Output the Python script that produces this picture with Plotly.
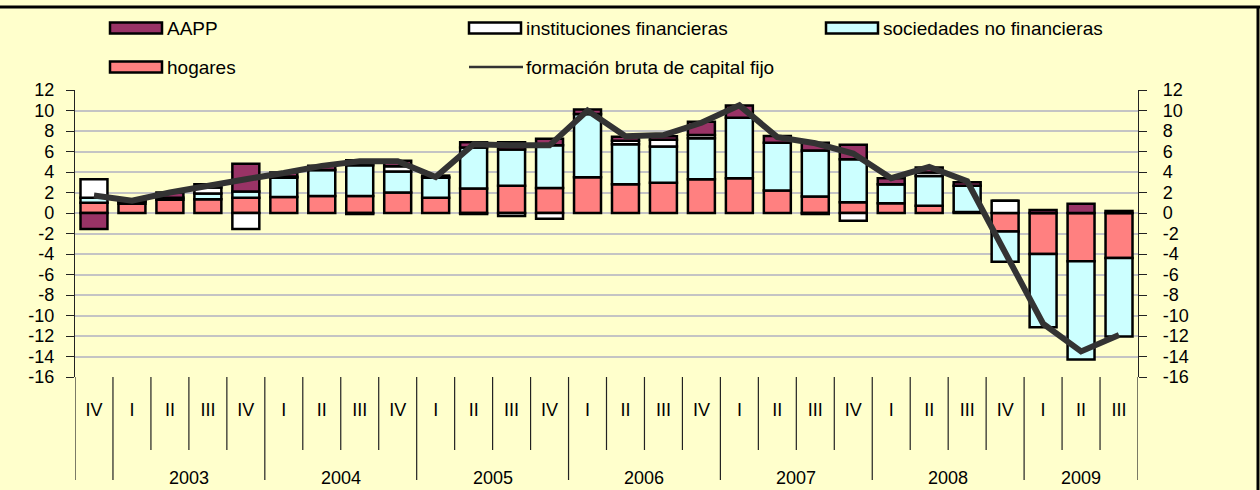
import plotly.graph_objects as go

# ---- data ----
quarters = ["IV",
            "I", "II", "III", "IV",
            "I", "II", "III", "IV",
            "I", "II", "III", "IV",
            "I", "II", "III", "IV",
            "I", "II", "III", "IV",
            "I", "II", "III", "IV",
            "I", "II", "III"]
years = ["2002"] + ["2003"] * 4 + ["2004"] * 4 + ["2005"] * 4 + ["2006"] * 4 + \
        ["2007"] * 4 + ["2008"] * 4 + ["2009"] * 3
shown_years = ["2003", "2004", "2005", "2006", "2007", "2008", "2009"]

hogares = [1.0, 0.9, 1.3, 1.35, 1.5, 1.55, 1.65, 1.65, 2.0, 1.5, 2.4, 2.65, 2.45, 3.5,
           2.8, 2.95, 3.3, 3.4, 2.2, 1.6, 1.05, 0.95, 0.7, 0.1, -1.8, -4.0, -4.7, -4.4]
sociedades = [0.5, 0.2, 0.2, 0.55, 0.6, 1.9, 2.55, 3.0, 2.05, 1.95, 4.0, 3.55, 4.15, 6.15,
              3.9, 3.55, 4.0, 5.9, 4.65, 4.5, 4.2, 1.85, 2.9, 2.55, -2.95, -7.15, -9.6, -7.65]
instituciones = [1.8, 0.05, 0.0, 0.6, -1.55, 0.1, 0.0, -0.1, 0.5, 0.05, -0.1, -0.3, -0.55, 0.0,
                 0.35, 0.65, 0.3, 0.0, 0.0, -0.1, -0.75, 0.0, 0.35, 0.0, 1.2, 0.0, 0.0, 0.0]
aapp = [-1.55, 0.15, 0.5, 0.3, 2.7, 0.4, 0.4, 0.5, 0.55, 0.15, 0.5, 0.7, 0.65, 0.45,
        0.4, 0.35, 1.3, 1.2, 0.65, 0.75, 1.4, 0.6, 0.5, 0.35, 0.0, 0.3, 0.9, 0.2]
fbcf = [1.7, 1.2, 2.0, 2.7, 3.3, 3.9, 4.6, 5.05, 5.05, 3.5, 6.7, 6.6, 6.6, 10.0,
        7.5, 7.6, 8.8, 10.5, 7.4, 6.8, 5.8, 3.4, 4.5, 3.1, -3.7, -10.8, -13.5, -11.9]

y_ticks = list(range(-16, 13, 2))

# ---- style ----
BG = "#FFFFCC"
FONT = "Arial, Liberation Sans, sans-serif"
COL_AAPP = "#993366"
COL_INST = "#FFFFFF"
COL_SOC = "#CCFFFF"
COL_HOG = "#FF8080"
COL_LINE = "#333333"

W, H = 1260, 490
ML, MR, MT, MB = 75, 122, 90, 113
PW, PH = W - ML - MR, H - MT - MB

def px_x(p):
    return (p - ML) / PW

def px_y(p):
    return (H - MB - p) / PH

x = list(range(len(quarters)))
border = dict(color="black", width=2.5)

fig = go.Figure()
fig.add_trace(go.Bar(x=x, y=hogares, name="hogares", marker=dict(color=COL_HOG, line=border)))
fig.add_trace(go.Bar(x=x, y=sociedades, name="sociedades no financieras", marker=dict(color=COL_SOC, line=border)))
fig.add_trace(go.Bar(x=x, y=instituciones, name="instituciones financieras", marker=dict(color=COL_INST, line=border)))
fig.add_trace(go.Bar(x=x, y=aapp, name="AAPP", marker=dict(color=COL_AAPP, line=border)))
fig.add_trace(go.Scatter(x=x, y=fbcf, name="formación bruta de capital fijo", mode="lines",
                         yaxis="y2", line=dict(color=COL_LINE, width=6)))

n = len(quarters)
shapes = []
annotations = []

# category separators below the plot
for i in range(n + 1):
    bx = i - 0.5
    is_year = i == 0 or i == n or years[i] != years[i - 1]
    y_end = 480 if is_year else 450
    shapes.append(dict(type="line", xref="x", yref="paper", x0=bx, x1=bx,
                       y0=0, y1=px_y(y_end), line=dict(color="#222222", width=1.2)))

# year labels
for yr in shown_years:
    idxs = [i for i, v in enumerate(years) if v == yr]
    cx = (idxs[0] + idxs[-1]) / 2
    annotations.append(dict(x=cx, y=px_y(490), xref="x", yref="paper", text=yr,
                            showarrow=False, yanchor="bottom", xanchor="center",
                            font=dict(family=FONT, size=18, color="black")))

# frame
shapes.append(dict(type="line", xref="paper", yref="paper", x0=px_x(0), x1=px_x(W),
                   y0=px_y(7), y1=px_y(7), line=dict(color="black", width=3)))
shapes.append(dict(type="line", xref="paper", yref="paper", x0=px_x(1258), x1=px_x(1258),
                   y0=px_y(7), y1=px_y(490), line=dict(color="black", width=3)))

# legend (manual, two rows)
legend_items = [
    ("AAPP", COL_AAPP, "box", 110, 28),
    ("instituciones financieras", COL_INST, "box", 469, 28),
    ("sociedades no financieras", COL_SOC, "box", 826, 28),
    ("hogares", COL_HOG, "box", 110, 67),
    ("formación bruta de capital fijo", COL_LINE, "line", 469, 67),
]
for label, col, kind, lx, ly in legend_items:
    if kind == "box":
        shapes.append(dict(type="rect", xref="paper", yref="paper",
                           x0=px_x(lx), x1=px_x(lx + 52), y0=px_y(ly + 5.5), y1=px_y(ly - 5.5),
                           fillcolor=col, line=dict(color="black", width=2.5)))
    else:
        shapes.append(dict(type="line", xref="paper", yref="paper",
                           x0=px_x(lx), x1=px_x(lx + 54), y0=px_y(ly), y1=px_y(ly),
                           line=dict(color=col, width=2.5)))
    annotations.append(dict(x=px_x(lx + 55), y=px_y(ly), xref="paper", yref="paper",
                            text=label, showarrow=False, xanchor="left", yanchor="middle",
                            font=dict(family=FONT, size=19, color="black")))

yaxis_common = dict(range=[-16, 12], tickvals=y_ticks, ticktext=[str(v) for v in y_ticks],
                    ticks="outside", ticklen=8, tickcolor="#222222", tickwidth=1.2,
                    showline=True, linecolor="#222222", linewidth=1.2,
                    tickfont=dict(family=FONT, size=18, color="black"), zeroline=False)

fig.update_layout(
    width=W, height=H,
    margin=dict(l=ML, r=MR, t=MT, b=MB, pad=0),
    paper_bgcolor=BG, plot_bgcolor=BG,
    barmode="relative", bargap=0.29,
    showlegend=False,
    font=dict(family=FONT, size=18, color="black"),
    xaxis=dict(range=[-0.5, n - 0.5], tickvals=x, ticktext=quarters, ticks="",
               showgrid=False, zeroline=False, showline=False,
               ticklabelstandoff=20, tickfont=dict(family=FONT, size=18, color="black")),
    xaxis2=dict(range=[-0.5, n - 0.5], overlaying="x", anchor="free",
                position=16 / 28, side="bottom",
                tickvals=[i + 0.5 for i in range(n - 1)], ticks="outside", ticklen=6,
                tickcolor="#222222", tickwidth=1.2, showticklabels=False,
                showgrid=False, zeroline=False, showline=True, linecolor="#222222", linewidth=1.2),
    yaxis=dict(showgrid=True, gridcolor="#C4C4C4", gridwidth=1.5, ticklabelstandoff=8, **yaxis_common),
    yaxis2=dict(overlaying="y", side="right", anchor="x", showgrid=False, ticklabelstandoff=12,
                **yaxis_common),
    shapes=shapes,
    annotations=annotations,
)

fig.write_html("out.html", config={"displayModeBar": False},
               post_script="document.body.style.margin='0';")
